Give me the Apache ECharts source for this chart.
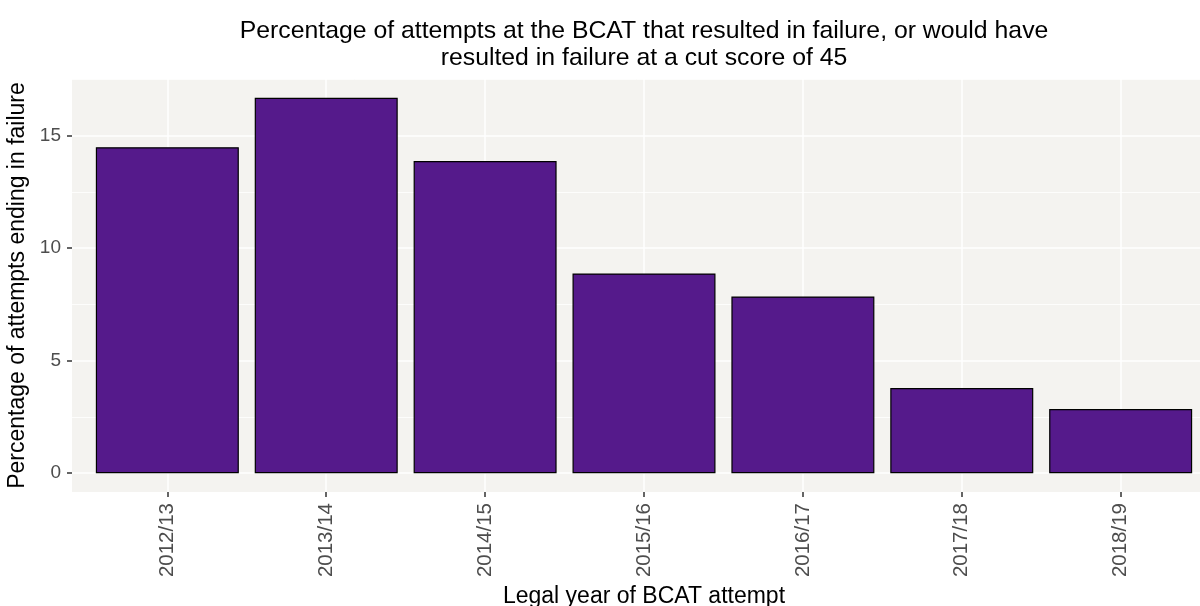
<!DOCTYPE html>
<html lang="en">
<head>
    <meta charset="UTF-8">
    <title>BCAT failure rate</title>
    <script src="https://cdn.jsdelivr.net/npm/echarts@6/dist/echarts.min.js"></script>
    <style>
        html, body { margin: 0; padding: 0; background: #fff; }
        #chart { width: 1200px; height: 606px; }
    </style>
</head>
<body>
    <div id="chart"></div>
    <script>
        // legal years and % of attempts ending in failure
        var years = ['2012/13', '2013/14', '2014/15', '2015/16', '2016/17', '2017/18', '2018/19'];
        var failPct = [14.48, 16.68, 13.87, 8.87, 7.85, 3.78, 2.85];
        var yTicks = [0, 5, 10, 15];
        var yMinor = [2.5, 7.5, 12.5, 17.5];
        var xTicks = [0, 1, 2, 3, 4, 5, 6];

        var font = 'Liberation Sans, Arial, sans-serif';
        var chart = echarts.init(document.getElementById('chart'));

        var option = {
            backgroundColor: '#ffffff',
            animation: false,
            title: {
                text: 'Percentage of attempts at the BCAT that resulted in failure, or would have\nresulted in failure at a cut score of 45',
                left: 639,
                top: 13,
                textAlign: 'center',
                textStyle: { fontFamily: font, fontSize: 24.8, fontWeight: 'normal', color: '#000', lineHeight: 27 }
            },
            grid: {
                left: 72, right: -16, top: 79, bottom: 114,
                show: true, backgroundColor: '#F4F3F0', borderWidth: 0,
                containLabel: false, outerBoundsMode: 'none'
            },
            xAxis: {
                type: 'value',
                min: -0.6, max: 6.6,
                name: 'Legal year of BCAT attempt',
                nameLocation: 'middle',
                nameGap: 90,
                nameTextStyle: { fontFamily: font, fontSize: 23, color: '#000' },
                axisLine: { show: false, onZero: false },
                axisTick: { show: true, length: 5, customValues: xTicks, lineStyle: { color: '#333', width: 1.5 } },
                axisLabel: {
                    customValues: xTicks, rotate: 90, margin: 11,
                    fontFamily: font, fontSize: 20.5, color: '#4D4D4D',
                    formatter: function (v) { return years[v]; }
                },
                splitLine: { show: true, lineStyle: { color: '#fff', width: 1.5 } }
            },
            yAxis: [{
                type: 'value',
                min: -0.834, max: 17.51,
                name: 'Percentage of attempts ending in failure',
                nameLocation: 'middle',
                nameGap: 26,
                nameTextStyle: { fontFamily: font, fontSize: 23, color: '#000', padding: [12, 0, 0, 0] },
                axisLine: { show: false, onZero: false },
                axisTick: { show: true, length: 5, customValues: yTicks, lineStyle: { color: '#333', width: 1.5 } },
                axisLabel: { customValues: yTicks, margin: 11, fontFamily: font, fontSize: 19, color: '#4D4D4D' },
                splitLine: { show: true, lineStyle: { color: '#fff', width: 1.5 } }
            }, {
                type: 'value',
                position: 'left',
                min: -0.834, max: 17.51,
                axisLine: { show: false, onZero: false },
                axisTick: { show: false, customValues: yMinor },
                axisLabel: { show: false },
                splitLine: { show: true, lineStyle: { color: '#fff', width: 0.8 } },
                z: 0
            }],
            series: [{
                type: 'bar',
                yAxisIndex: 0,
                barWidth: '90%',
                data: years.map(function (y, i) { return [i, failPct[i]]; }),
                itemStyle: { color: '#551A8B', borderColor: '#000', borderWidth: 1.2 }
            }]
        };
        chart.setOption(option);
    </script>
</body>
</html>
